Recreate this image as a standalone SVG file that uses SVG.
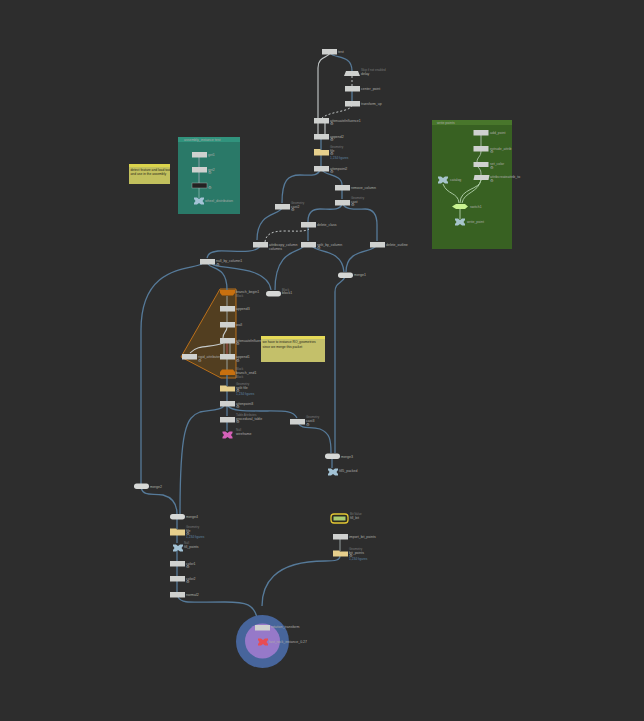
<svg xmlns="http://www.w3.org/2000/svg" width="644" height="721" viewBox="0 0 644 721">
<style>
text{font-family:"Liberation Sans",Arial,sans-serif;font-size:3.5px;fill:#adada9}
.s{fill:#77797a;font-size:3px}
.b{fill:#5f84a3;font-size:3.2px}
.d{fill:#26261a;font-size:3.3px}
.n{fill:#cfd1cf}
.p{fill:#d6d8d6}
.y{fill:#e6cf8c}
.o{fill:#c8700f}
.x{fill:#a3c3d6}
.c{fill:none;stroke:#567a99;stroke-width:1.3}
.l{fill:none;stroke:#c6cbcb;stroke-width:1.1}
.h{fill:none;stroke:#d0d5d5;stroke-width:.9;stroke-dasharray:2 2}
.e{fill:none;stroke:#a0abab;stroke-width:.9}
</style>
<defs>
<path id="bow" d="M-5-3.5L-2-3.5L0-2L2-3.5L5-3.5L5-2L3.5 0L5 2L5 3.500L2 3.500L0 2L-2 3.500L-5 3.500L-5 2L-3.500 0L-5-2Z"/>
</defs>
<rect width="644" height="721" fill="#2d2d2d"/>
<rect x="178" y="137" width="62" height="77" fill="#2a7968"/><rect x="178" y="137" width="62" height="5" fill="#31937d"/>
<rect x="432" y="120" width="80" height="129" fill="#386122"/><rect x="432" y="120" width="80" height="5" fill="#48762b"/>
<path d="M220 289L236 289L236 378L221 378L181 357Z" fill="#523e20" stroke="#bb701a" stroke-width="1"/>
<g id="connectors">
<path class="l" d="M330 53C328 58 318 56 318 68L318 118"/>
<path class="c" d="M330 53C334 59 352 54 352 71"/>
<path class="h" d="M352 76L352 86"/>
<path class="c" d="M352 90L352 101"/>
<path class="h" d="M352 105C351 112 330 111 322 118"/>
<path class="l" d="M318 122L318 134M325 122L325 134"/>
<path class="c" d="M321 138L321 150M321 154L321 166"/>
<path class="c" d="M320 170C318 176 312 175 300 175C288 175 282 180 282 203"/>
<path class="c" d="M322 170C325 176 342 174 342 185L342 199"/>
<path class="c" d="M282 208C278 216 257 212 257 240"/>
<path class="c" d="M342 204C340 211 330 209 320 209C312 209 308 213 308 221L308 241"/>
<path class="c" d="M343 204C345 210 356 209 365 209C373 209 377 214 377 225L377 241"/>
<path class="h" d="M265 242C266 234 272 231 285 231C295 231 305 232 309 229"/>
<path class="c" d="M260 246C255 255 230 250 218 251C210 252 208 254 207 258"/>
<path class="c" d="M304 246C300 253 275 248 275 290"/>
<path class="c" d="M312 246C316 253 342 248 344 272"/>
<path class="c" d="M376 246C372 253 346 248 346 272"/>
<path class="c" d="M345 277C342 284 335 282 335 292L335 453"/>
<path class="c" d="M202 264C190 270 141 265 141 330L141 484"/>
<path class="c" d="M208 264C212 270 227 266 227 290"/>
<path class="c" d="M212 264C218 270 267 264 271 290"/>
<path class="e" d="M227 296L227 306"/>
<path class="e" d="M227 311L227 322"/>
<path class="l" d="M227 327C227 332 223 332 223 338"/>
<path class="l" d="M223 343C212 348 198 344 190 353"/>
<path class="e" d="M224 343L224 355M230 343L230 355"/>
<path fill="none" stroke="#b5505a" stroke-width=".9" d="M227 343L227 355"/>
<path class="e" d="M227 359L227 370"/>
<path class="c" d="M227 375L227 386M227 391L227 401"/>
<path class="c" d="M224 406C220 411 208 410 200 412C186 417 180 430 180 514"/>
<path class="c" d="M228 406C232 411 245 411 260 411C285 411 293 410 297 418"/>
<path class="c" d="M227 406L227 416"/>
<path class="c" d="M227 421L227 431"/>
<path class="c" d="M298 423C302 430 310 426 320 429C330 433 331 440 331 453"/>
<path class="c" d="M332 458L332 468"/>
<path class="c" d="M141 488C144 497 152 493 163 495C174 498 177 505 177 514"/>
<path class="c" d="M177 519L177 529M177 534L177 543M177 549L177 561M177 565L177 576M177 580L177 592"/>
<path class="c" d="M178 597C182 604 190 602 225 602C245 602 255 603 258 622"/>
<path class="c" d="M262 606C262 586 272 561 325 561C336 561 340 560 340 556"/>
<path class="e" d="M340 539L340 551"/>
<path class="c" d="M262 630L262 641"/>
<path fill="none" stroke="#8aa0a8" stroke-width="1" d="M199 156L199 167M199 172L199 183"/>
<path fill="none" stroke="#7fb0a8" stroke-width=".9" d="M199 188L199 198"/>
<path fill="none" stroke="#a3b8a0" stroke-width="1" d="M481 135L481 146M481 151C481 157 477 157 477 162M478 167C481 170 481 172 481 175"/>
<path fill="none" stroke="#a8c8a0" stroke-width="1" d="M481 180C480 190 460 188 460 203M443 184C447 195 458 192 459 203"/>
<path fill="none" stroke="#a8c8a0" stroke-width="1" d="M462 203C464 192 478 193 481 180"/>
<path fill="none" stroke="#a8c8a0" stroke-width="1" d="M460 209L460 219"/>
</g>
<g id="test"><rect class="n" x="322" y="49" width="15" height="5.500"/><text x="338" y="53">test</text></g>
<g id="delay"><path class="n" d="M346 71L358 71L360 76L344 76Z"/><text class="s" x="361" y="70.500">Skip if not enabled</text><text x="361" y="74.500">delay</text></g>
<g id="center_point"><rect class="n" x="345" y="86" width="15" height="5.500"/><text x="361" y="90">center_point</text></g>
<g id="transform_up"><rect class="n" x="345" y="101" width="15" height="5.500"/><text x="361" y="105">transform_up</text></g>
<g id="attenuate"><rect class="n" x="314" y="118" width="15" height="5.500"/><text x="330" y="121.500">attenuateInfluence1</text><text x="330" y="125">⚙</text></g>
<g id="append2"><rect class="n" x="314" y="134" width="15" height="5.500"/><text x="330" y="137.500">append2</text><text x="330" y="141">⚙</text></g>
<g id="file1"><path class="y" d="M314 149L320 149L321 150L329 150L329 155.500L314 155.500Z"/><text class="s" x="330" y="148">Geometry</text><text x="330" y="152">file</text><text x="330" y="155">⚙</text><text class="b" x="330" y="158.500">1,234 figures</text></g>
<g id="attenpoint2"><rect class="n" x="314" y="166" width="15" height="5.500"/><text x="330" y="169.500">attenpoint2</text><text x="330" y="173">⚙</text></g>
<g id="remove_column"><rect class="n" x="335" y="185" width="15" height="5.500"/><text x="351" y="189">remove_column</text></g>
<g id="cast"><rect class="n" x="335" y="200" width="15" height="5.500"/><text class="s" x="351" y="199">Geometry</text><text x="351" y="203">cast</text><text x="351" y="206">⚙</text></g>
<g id="cast1"><rect class="n" x="275" y="204" width="15" height="5.500"/><text class="s" x="291" y="204">Geometry</text><text x="291" y="208">cast2</text><text x="291" y="211">⚙</text></g>
<g id="delete_class"><rect class="n" x="301" y="222" width="15" height="5.500"/><text x="317" y="225.500">delete_class</text></g>
<g id="attribcopy"><rect class="n" x="253" y="242" width="15" height="5.500"/><text x="269" y="245.500">attribcopy_column</text><text x="269" y="249.500">columns</text></g>
<g id="split_by_column"><rect class="n" x="301" y="242" width="15" height="5.500"/><text x="317" y="245.500">split_by_column</text><text x="317" y="249">⚙</text></g>
<g id="delete_outline"><rect class="n" x="370" y="242" width="15" height="5.500"/><text x="386" y="245.500">delete_outline</text></g>
<g id="merge1"><rect class="p" x="338" y="272.500" width="15" height="5.500" rx="2.700"/><text x="354" y="276">merge1</text></g>
<g id="null_by_column1"><rect class="n" x="200" y="259" width="15" height="5.500"/><text x="216" y="262">null_by_column1</text><text x="216" y="265.500">⚙</text></g>
<g id="block1"><rect class="p" x="266" y="291" width="15" height="5.500" rx="2.700"/><text class="s" x="282" y="290.500">Block</text><text x="282" y="294">block1</text></g>
<g id="branch_begin1"><path class="o" d="M220 290L235 290L235 293L233 295.500L222 295.500L220 293Z"/><text x="236" y="293">branch_begin1</text><text class="s" x="236" y="297">Block</text></g>
<g id="append3"><rect class="n" x="220" y="306" width="15" height="5.500"/><text x="236" y="310">append3</text></g>
<g id="wall"><rect class="n" x="220" y="322" width="15" height="5.500"/><text x="236" y="326">wall</text></g>
<g id="attenuate2"><rect class="n" x="220" y="338" width="15" height="5.500"/><text x="236" y="341.500">attenuateInfluence</text><text x="236" y="345">⚙</text></g>
<g id="rigid"><rect class="n" x="182" y="354" width="15" height="5.500"/><text x="198" y="358">rigid_attributes</text><text x="198" y="361.500">⚙</text></g>
<g id="append1"><rect class="n" x="220" y="354" width="15" height="5.500"/><text x="236" y="358">append1</text><text x="236" y="361.500">⚙</text></g>
<g id="branch_end1"><path class="o" d="M222 369.500L233 369.500L235 372L235 375L220 375L220 372Z"/><text class="s" x="236" y="370">Block</text><text x="236" y="373.500">branch_end1</text><text class="s" x="236" y="377.500">Block</text></g>
<g id="split_file"><path class="y" d="M220 385.500L226 385.500L227 386.500L235 386.500L235 391.500L220 391.500Z"/><text class="s" x="236" y="385">Geometry</text><text x="236" y="388.500">split file</text><text x="236" y="391.500">⚙</text><text class="b" x="236" y="395">1,234 figures</text></g>
<g id="attenpoint3"><rect class="n" x="220" y="401" width="15" height="5.500"/><text x="236" y="404.500">attenpoint3</text><text x="236" y="408">⚙</text></g>
<g id="procedural_table"><rect class="n" x="220" y="417" width="15" height="5.500"/><text class="s" x="236" y="416">Table Attributes</text><text x="236" y="419.500">procedural_table</text><text x="236" y="423">⚙</text></g>
<g id="wireframe"><use href="#bow" x="227.500" y="435" fill="#d561b9"/><text class="s" x="236" y="431">Null</text><text x="236" y="435">wireframe</text></g>
<g id="cast3"><rect class="n" x="290" y="419" width="15" height="5.500"/><text class="s" x="306" y="418">Geometry</text><text x="306" y="422">cast3</text><text x="306" y="425.500">⚙</text></g>
<g id="merge3"><rect class="p" x="325" y="453.500" width="15" height="5.500" rx="2.700"/><text x="341" y="457.500">merge3</text></g>
<g id="fill_packed"><use href="#bow" x="333" y="472" class="x"/><text x="339" y="471.500">fill5_packed</text></g>
<g id="merge2"><rect class="p" x="134" y="483.500" width="15" height="5.500" rx="2.700"/><text x="150" y="487.500">merge2</text></g>
<g id="merge4"><rect class="p" x="170" y="514" width="15" height="5.500" rx="2.700"/><text x="186" y="518">merge4</text></g>
<g id="file4"><path class="y" d="M170 528.500L176 528.500L177 529.500L185 529.500L185 535.500L170 535.500Z"/><text class="s" x="186" y="528">Geometry</text><text x="186" y="531.500">file</text><text x="186" y="534.500">⚙</text><text class="b" x="186" y="538">1,234 figures</text></g>
<g id="fill_points"><use href="#bow" x="178" y="548" class="x"/><text class="s" x="184" y="544">Null</text><text x="184" y="547.500">fill_points</text></g>
<g id="color1"><rect class="n" x="170" y="561" width="15" height="5.500"/><text x="186" y="564.500">color1</text><text x="186" y="568">⚙</text></g>
<g id="color2"><rect class="n" x="170" y="576" width="15" height="5.500"/><text x="186" y="579.500">color2</text><text x="186" y="583">⚙</text></g>
<g id="normal"><rect class="n" x="170" y="592" width="15" height="5.500"/><text x="186" y="596">normal2</text></g>
<g id="fill_bit"><rect x="331" y="514" width="17" height="9" rx="3" fill="#2b2b20" stroke="#e3c733" stroke-width="1.300"/><rect x="333.500" y="516.500" width="12" height="4" fill="#a8cc70"/><text class="s" x="350" y="515">Bit Value</text><text x="350" y="518.500">fill_bit</text></g>
<g id="import_bit"><rect class="n" x="333" y="534" width="15" height="5.500"/><text x="349" y="537.500">import_bit_points</text></g>
<g id="bit_points"><path class="y" d="M333 550.500L339 550.500L340 551.500L348 551.500L348 556.500L333 556.500Z"/><text class="s" x="349" y="550">Geometry</text><text x="349" y="553.500">bit_points</text><text x="349" y="556.500">⚙</text><text class="b" x="349" y="560">1,234 figures</text></g>
<g id="output"><circle cx="262.500" cy="641.500" r="26.500" fill="#47659b"/><circle cx="262.500" cy="641" r="17.500" fill="#9679c9"/><rect class="n" x="255" y="625" width="15" height="5.500"/><text x="271" y="628">rotation_transform</text><use href="#bow" x="263" y="642" fill="#e84c52"/><text x="269" y="642.500">fast_rock_instance_0.27</text></g>
<g id="assembly"><text x="184" y="140.500" fill="#c5e4dc">assembly_instance test</text><rect class="n" x="192" y="152" width="15" height="5.500"/><text x="208" y="155.500">get1</text><rect class="n" x="192" y="167" width="15" height="5.500"/><text x="208" y="170.500">get2</text><text x="208" y="174">⚙</text><rect x="192" y="183" width="15" height="5" fill="#222" stroke="#b9b9b9" stroke-width=".4"/><text x="208" y="189">⚙</text><use href="#bow" x="199" y="201" class="x"/><text x="205" y="202">wheel_distribution</text></g>
<g id="note1"><rect x="129" y="164" width="41" height="20" fill="#c2c05d"/><rect x="129" y="164" width="41" height="3" fill="#dbd44c"/><text class="d" x="130.500" y="171">detect feature and load tool</text><text class="d" x="130.500" y="175">and use in the assembly</text></g>
<g id="note2"><rect x="261" y="336" width="64" height="26" fill="#c4c06a"/><rect x="261" y="336" width="64" height="3" fill="#e5da58"/><text class="d" x="262.500" y="343">we have to instance RO_geometries</text><text class="d" x="262.500" y="347.500">since we merge this packet</text></g>
<g id="write_points"><text x="437" y="123.500" fill="#d0e2bd">write points</text><rect class="n" x="473.500" y="130" width="15" height="5.500"/><text x="490" y="134">add_point</text><rect class="n" x="473.500" y="146" width="15" height="5.500"/><text x="490" y="150">extrude_attrib</text><text x="490" y="153">⚙</text><path class="n" d="M473.500 162L488.500 162L488.500 167L473.500 167Z"/><text x="490" y="165">set_color</text><text x="490" y="168.500">⚙</text><path class="n" d="M474.500 175L489.500 175L488.500 180L473.500 180Z"/><text x="490" y="178">attribcreateattrib_to</text><text x="490" y="181.500">⚙</text><use href="#bow" x="443" y="180" fill="#a6c4cb"/><text x="450" y="181">catalog</text><path d="M452 206.500L456 204L465 204L468 206.500L465 209L456 209Z" fill="#c8f291"/><text x="470" y="207.500">switch1</text><use href="#bow" x="460" y="222" fill="#a6c4cb"/><text x="467" y="223">write_point</text></g>
</svg>
